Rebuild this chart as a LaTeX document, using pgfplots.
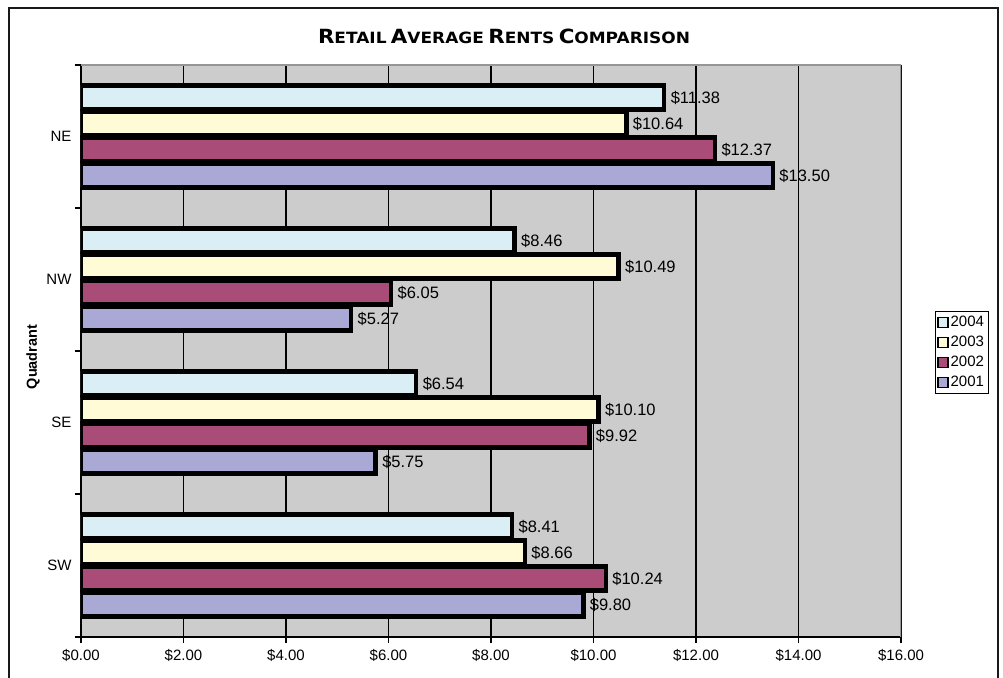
\documentclass[border=0pt]{standalone}
\usepackage{pgfplots}
\pgfplotsset{compat=1.18}
\usepackage{graphicx}
\usepackage{fontspec}
\setmainfont{Liberation Sans}
\newfontfamily\titlefont{DejaVu Sans}
\definecolor{cA}{RGB}{217,239,245}
\definecolor{cB}{RGB}{255,251,214}
\definecolor{cC}{RGB}{169,76,120}
\definecolor{cD}{RGB}{170,168,212}
\definecolor{plotgray}{RGB}{204,204,204}
\definecolor{bordergray}{RGB}{150,150,150}
\newcommand{\tc}[1]{{\fontsize{17}{17}\selectfont #1}}
\newcommand{\ts}[1]{{\fontsize{13.5}{13.5}\selectfont #1}}
\begin{document}
\begin{tikzpicture}
\useasboundingbox (0pt,0pt) rectangle (1003pt,677pt);
\draw[line width=2pt,black!90] (9pt,-5pt) -- (9pt,669pt) -- (998pt,669pt) -- (998pt,-5pt);
\node[inner sep=0pt] at (504pt,641pt) {\resizebox{372pt}{14.5pt}{\titlefont\bfseries \tc{R}\ts{ETAIL} \tc{A}\ts{VERAGE} \tc{R}\ts{ENTS} \tc{C}\ts{OMPARISON}}};
\begin{axis}[
  at={(81pt,40pt)}, anchor=south west,
  scale only axis, width=820pt, height=572pt,
  xmin=0, xmax=16, ymin=-0.5, ymax=3.5,
  axis x line*=bottom, axis y line*=left,
  axis line style={black, line width=2pt},
  axis background/.style={fill=plotgray},
  xtick={0,2,...,16},
  xticklabel={\$\pgfmathprintnumber[fixed,fixed zerofill,precision=2]{\tick}},
  /pgf/number format/assume math mode=true,
  xticklabel style={font=\fontsize{15}{15}\selectfont, yshift=-3pt},
  ytick={0,1,2,3}, yticklabels={SW,SE,NW,NE},
  yticklabel style={font=\fontsize{15}{15}\selectfont},
  minor ytick={-0.5,0.5,1.5,2.5,3.5},
  major y tick style={draw=none},
  minor y tick style={black, line width=1.3pt},
  major x tick style={black, line width=1.3pt},
  tick align=outside, major tick length=6pt, minor tick length=6pt,
  xmajorgrids, major grid style={black, line width=1.3pt},
  ylabel={\bfseries Quadrant},
  ylabel style={font=\fontsize{14.5}{15}\selectfont, at={(ticklabel cs:0.5)}, xshift=-6pt},
  xbar, bar width=24pt,
  every axis plot/.append style={draw=black, line width=4.5pt},
  nodes near coords={\$\pgfmathprintnumber[fixed,fixed zerofill,precision=2]{\pgfplotspointmeta}},
  nodes near coords style={font=\fontsize{16.5}{17}\selectfont, anchor=west, xshift=1pt, text=black},
  point meta=x,
  legend style={at={(1.0415,0.498)}, anchor=west, draw=black, line width=0.8pt, fill=white,
    font=\fontsize{15}{17}\selectfont, row sep=4pt, inner xsep=2pt, inner ysep=3pt},
  legend cell align=left,
  legend image code/.code={\draw[#1, draw=black, line width=1.2pt] (0pt,-5pt) rectangle (10pt,5pt);},
]
\addplot[fill=cA, bar shift=39pt] coordinates {(11.38,3) (8.46,2) (6.54,1) (8.41,0)};
\addplot[fill=cB, bar shift=13pt] coordinates {(10.64,3) (10.49,2) (10.10,1) (8.66,0)};
\addplot[fill=cC, bar shift=-13pt] coordinates {(12.37,3) (6.05,2) (9.92,1) (10.24,0)};
\addplot[fill=cD, bar shift=-39pt] coordinates {(13.50,3) (5.27,2) (5.75,1) (9.80,0)};
\legend{2004,2003,2002,2001}
\draw[bordergray, line width=3pt] (rel axis cs:0,1) -- (rel axis cs:1,1) -- (rel axis cs:1,0);
\end{axis}
\end{tikzpicture}
\end{document}
